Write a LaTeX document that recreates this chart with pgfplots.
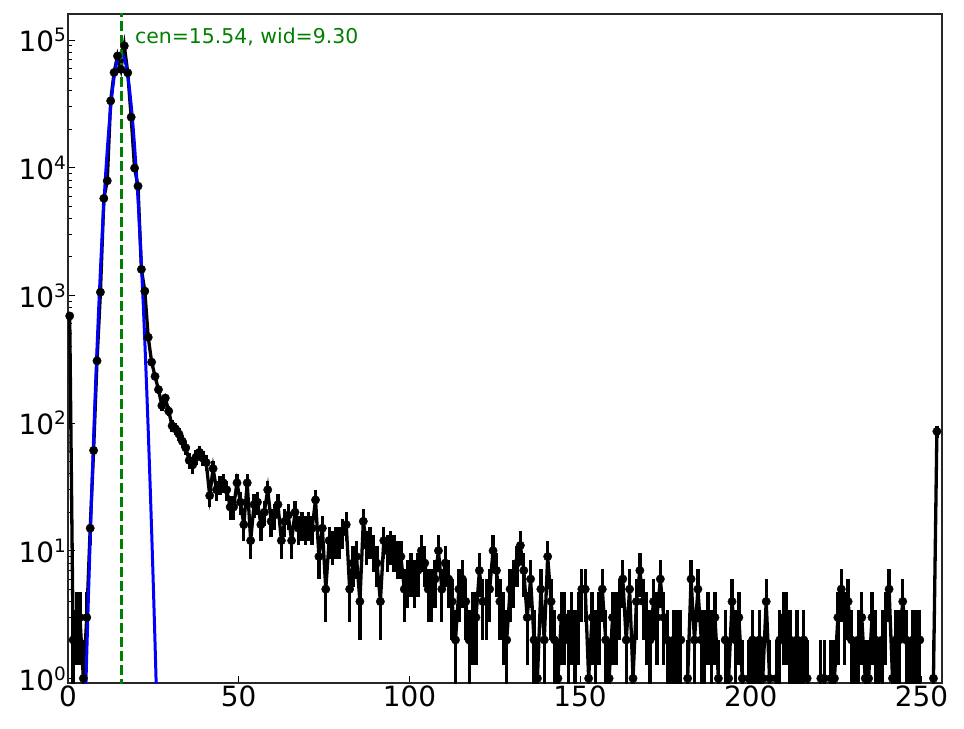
\documentclass[border=0pt]{standalone}
\usepackage{fontspec}
\setmainfont{DejaVu Sans}
\usepackage{pgfplots}
\pgfplotsset{compat=1.18}
\usepackage{pgfplotstable}

\pgfplotstableread{
x y
0.5 690
1.5 2
2.5 3
3.5 3
4.5 1
5.5 3
6.5 15
7.5 61
8.5 307
9.5 1060
10.5 5750
11.5 7900
12.5 33400
13.5 55700
14.5 75000
15.5 59000
16.5 90000
17.5 55400
18.5 24900
19.5 9930
20.5 7180
21.5 1600
22.5 1080
23.5 470
24.5 300
25.5 232
26.5 183
27.5 137
28.5 157
29.5 124
30.5 95
31.5 90
32.5 82
33.5 72
34.5 64
35.5 51
36.5 47
37.5 54
38.5 59
39.5 53
40.5 49
41.5 27
42.5 44
43.5 30
44.5 33
45.5 34
46.5 30
47.5 22
48.5 22
49.5 34
50.5 24
51.5 16
52.5 34
53.5 12
54.5 23
55.5 24
56.5 16
57.5 20
58.5 30
59.5 17
60.5 19
61.5 23
62.5 12
63.5 17
64.5 19
65.5 12
66.5 20
67.5 15
68.5 16
69.5 15
70.5 16
71.5 15
72.5 25
73.5 9
74.5 15
75.5 5
76.5 12
77.5 11
78.5 12
79.5 12
80.5 14
81.5 16
82.5 5
83.5 8
84.5 9
85.5 4
86.5 17
87.5 11
88.5 12
89.5 10
90.5 8
91.5 4
92.5 12
93.5 10
94.5 11
95.5 10
96.5 9
97.5 9
98.5 5
99.5 6
100.5 7
101.5 6
102.5 7
103.5 10
104.5 8
105.5 5
106.5 5
107.5 6
108.5 10
109.5 5
110.5 8
111.5 6
112.5 4
113.5 2
114.5 5
115.5 6
116.5 4
117.5 2
118.5 3
119.5 3
120.5 7
121.5 4
122.5 4
123.5 5
124.5 10
125.5 7
126.5 4
127.5 3
128.5 2
129.5 5
130.5 6
131.5 8
132.5 11
133.5 7
134.5 3
135.5 6
136.5 2
137.5 1
138.5 5
139.5 2
140.5 9
141.5 4
142.5 2
143.5 1
144.5 3
145.5 3
146.5 2
147.5 3
148.5 2
149.5 3
150.5 5
151.5 5
152.5 1
153.5 3
154.5 2
155.5 3
156.5 5
157.5 2
158.5 1
159.5 3
160.5 3
161.5 4
162.5 6
163.5 2
164.5 5
165.5 1
166.5 4
167.5 7
168.5 4
169.5 3
170.5 2
171.5 4
172.5 3
173.5 6
174.5 3
175.5 2
176.5 1
177.5 2
178.5 2
179.5 2
180.5 nan
181.5 1
182.5 6
183.5 2
184.5 5
185.5 2
186.5 2
187.5 3
188.5 2
189.5 3
190.5 1
191.5 nan
192.5 2
193.5 1
194.5 4
195.5 2
196.5 3
197.5 1
198.5 nan
199.5 1
200.5 2
201.5 1
202.5 2
203.5 1
204.5 4
205.5 1
206.5 nan
207.5 1
208.5 2
209.5 3
210.5 3
211.5 2
212.5 1
213.5 2
214.5 1
215.5 2
216.5 1
217.5 nan
218.5 nan
219.5 nan
220.5 1
221.5 1
222.5 nan
223.5 1
224.5 1
225.5 3
226.5 5
227.5 3
228.5 4
229.5 2
230.5 1
231.5 2
232.5 3
233.5 1
234.5 1
235.5 3
236.5 2
237.5 1
238.5 2
239.5 3
240.5 5
241.5 1
242.5 2
243.5 2
244.5 4
245.5 2
246.5 1
247.5 2
248.5 2
249.5 2
250.5 nan
251.5 nan
252.5 nan
253.5 1
254.5 86
}\histdata

\pgfplotstableread{
x y
4.54 0.179
5.04 0.568
5.54 1.711
6.04 4.88
6.54 13.2
7.04 33.8
7.54 82.1
8.04 188.9
8.54 411.8
9.04 851
9.54 1667
10.04 3093
10.54 5441
11.04 9066
11.54 14318
12.04 21431
12.54 30397
13.04 40854
13.54 52036
14.04 62809
14.54 71845
15.04 77878
15.54 80000
16.04 77878
16.54 71845
17.04 62809
17.54 52036
18.04 40854
18.54 30397
19.04 21431
19.54 14318
20.04 9066
20.54 5441
21.04 3093
21.54 1667
22.04 851
22.54 411.8
23.04 188.9
23.54 82.1
24.04 33.8
24.54 13.2
25.04 4.88
25.54 1.711
26.04 0.568
26.54 0.179
}\fitdata

\newcommand{\tl}[1]{10\raisebox{10bp}{\fontsize{18.5}{18.5}\selectfont #1}}

\begin{document}
\begin{tikzpicture}
\path[use as bounding box] (-68bp,-46bp) rectangle (896bp,683bp);
\begin{axis}[
  at={(0,0)}, anchor=south west,
  scale only axis, width=874bp, height=669bp,
  xmin=0, xmax=256, ymode=log, ymin=0.92, ymax=1.6e5,
  xtick={0,50,100,150,200,250},
  ytick={1,10,100,1000,10000,100000},
  yticklabels={\tl{0},\tl{1},\tl{2},\tl{3},\tl{4},\tl{5}},
  tick align=inside, xtick pos=left, ytick pos=left,
  major tick length=7bp, minor tick length=4bp,
  tick style={black, line width=1bp},
  axis line style={black!85, line width=1.6bp},
  ticklabel style={font=\fontsize{28}{31}\selectfont},
  xticklabel style={/pgf/number format/assume math mode=true, inner ysep=3bp},
  yticklabel style={inner xsep=2bp},
  unbounded coords=jump,
]
\addplot[black, line width=3.3bp, mark=*, mark size=4.2bp,
  mark options={solid, fill=black, line width=0.4bp},
  error bars/.cd, y dir=both, y explicit,
  error bar style={line width=3.3bp, solid, black}, error mark=none]
  table[x=x, y=y,
        y error plus expr={sqrt(\thisrow{y})},
        y error minus expr={(\thisrow{y}<1.5) ? 0.99 : sqrt(\thisrow{y})}] {\histdata};
\addplot[blue, line width=3bp, no marks] table[x=x, y=y] {\fitdata};
\addplot[green!50!black, line width=3bp, no marks, dash pattern=on 9.5bp off 4.5bp]
  coordinates {(15.54,0.5) (15.54,3e5)};
\node[anchor=base west, text=green!50!black, font=\fontsize{20.5}{24}\selectfont, inner sep=0pt]
  at (axis cs:19.6,9.47e4) {cen=15.54, wid=9.30};
\end{axis}
\end{tikzpicture}
\end{document}
